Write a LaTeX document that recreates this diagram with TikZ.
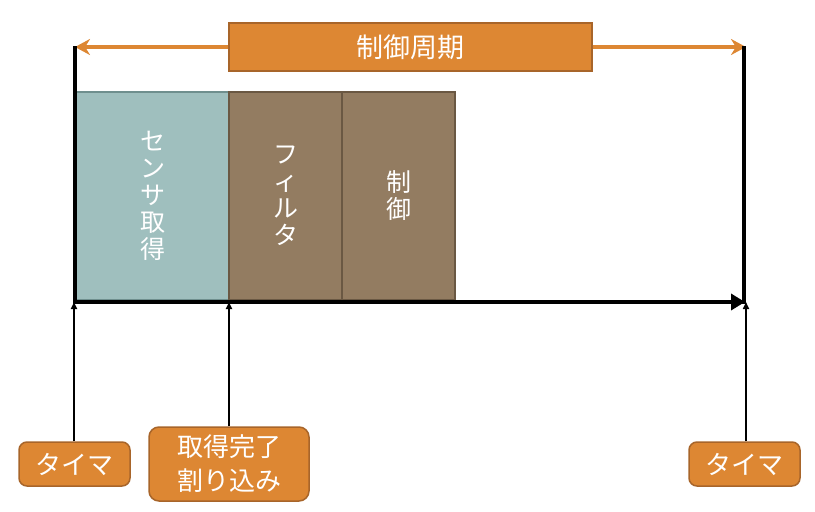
\documentclass[tikz,border=0pt]{standalone}
\usepackage{fontspec}
\setmainfont{Noto Sans CJK JP}
\usetikzlibrary{arrows.meta}
\definecolor{org}{HTML}{DD8733}
\definecolor{orgline}{HTML}{A8652A}
\definecolor{teal1}{HTML}{9FBFBE}
\definecolor{tealline}{HTML}{6F8F8E}
\definecolor{brn}{HTML}{937C61}
\definecolor{brnline}{HTML}{6A5843}
\tikzset{
  orgbox/.style={draw=orgline, fill=org, line width=1.5pt, text=white, inner sep=0pt, align=center, font=\fontsize{26}{34}\selectfont},
  taskbox/.style={line width=1.5pt, text=white, inner sep=0pt, align=center, minimum height=208pt, font=\fontsize{25}{27}\selectfont},
  thinarrow/.style={line width=1.6pt, -{Triangle[length=7pt,width=6pt]}},
}
\begin{document}
\begin{tikzpicture}[x=1pt,y=-1pt]
\useasboundingbox (0,0) rectangle (815,512);
% control period arrow
\coordinate (pl) at (75,47);
\coordinate (pr) at (746,47);
\draw[org, line width=4pt, {Stealth[length=15pt,width=16pt]}-{Stealth[length=15pt,width=16pt]}] (pl) -- (pr);
\node[orgbox, minimum width=363pt, minimum height=48pt, font=\fontsize{27}{34}\selectfont] (period) at (410.5,47) {制御周期};
% tasks
\node[taskbox, draw=tealline, fill=teal1, minimum width=153pt] (sensor) at (152.5,196) {セ\\ン\\サ\\取\\得};
\node[taskbox, draw=brnline, fill=brn, minimum width=113pt] (filter) at (285.5,196) {フ\\ィ\\ル\\タ};
\node[taskbox, draw=brnline, fill=brn, minimum width=113pt] (ctrl) at (398.5,196) {制\\御};
% frame lines
\coordinate (tl) at (75,46);
\coordinate (bl) at (75,302);
\coordinate (tr) at (744,46);
\coordinate (br) at (744,304);
\draw[line width=4pt] (tl) -- (bl);
\draw[line width=4pt] (tr) -- (br);
\draw[line width=4pt, -{Triangle[length=14pt,width=16pt]}] (73,302) -- (745,302) coordinate (axisend);
% bottom boxes
\node[orgbox, rounded corners=8pt, minimum width=111pt, minimum height=44pt] (timer1) at (74.5,464) {タイマ};
\node[orgbox, rounded corners=10pt, minimum width=160pt, minimum height=74pt] (irq) at (229,464) {取得完了\\割り込み};
\node[orgbox, rounded corners=8pt, minimum width=111pt, minimum height=44pt] (timer2) at (744.5,464) {タイマ};
\coordinate (a1) at (74,302);
\coordinate (a2) at (229,302);
\coordinate (a3) at (746,302);
\draw[thinarrow] (timer1.north -| a1) -- (a1);
\draw[thinarrow] (irq.north -| a2) -- (a2);
\draw[thinarrow] (timer2.north -| a3) -- (a3);
\end{tikzpicture}
\end{document}
